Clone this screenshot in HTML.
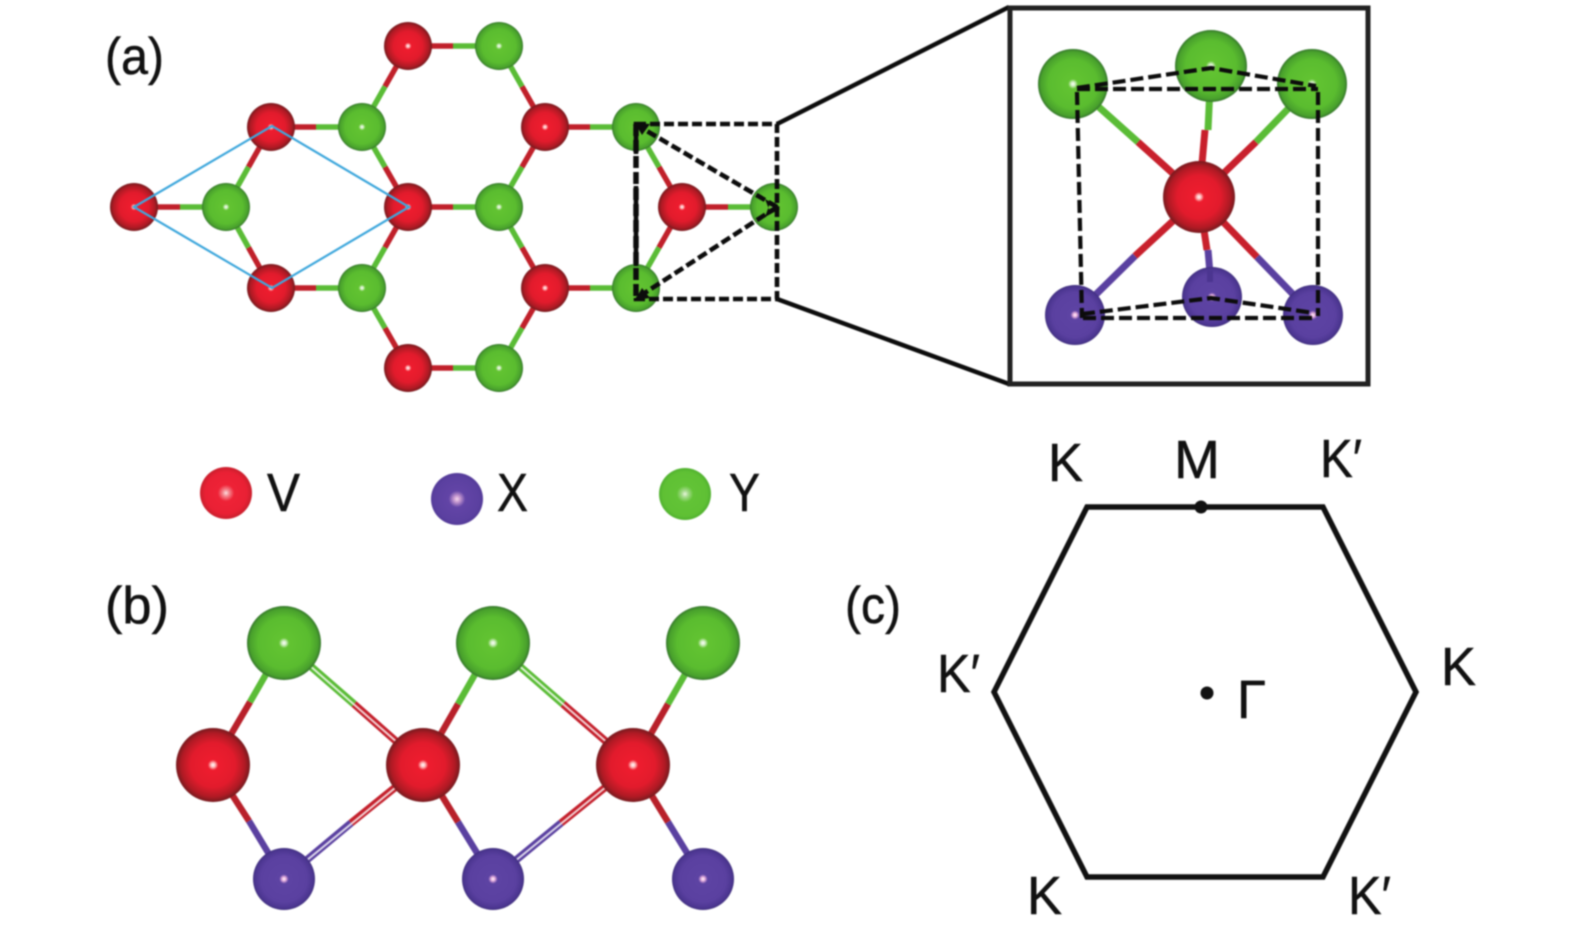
<!DOCTYPE html>
<html><head><meta charset="utf-8"><style>
html,body{margin:0;padding:0;background:#fff;width:1575px;height:925px;overflow:hidden}
svg{display:block;filter:blur(.85px)}
text{font-family:"Liberation Sans",sans-serif;fill:#111;stroke:#111;stroke-width:.5px;font-size:54px}
.r{fill:url(#gr)}.g{fill:url(#gg)}.p{fill:url(#gp)}
.lr{fill:url(#lr)}.lg{fill:url(#lg)}.lp{fill:url(#lp)}
path{fill:none}
.d{stroke:#0c0c0c;stroke-width:4.6;stroke-dasharray:10 4}
.d2{stroke:#0c0c0c;stroke-width:4.2;stroke-dasharray:13 5}
</style></head><body>
<svg width="1575" height="925" viewBox="0 0 1575 925" xmlns="http://www.w3.org/2000/svg">
<defs>
<radialGradient id="gr"><stop offset="0" stop-color="#fff"/><stop offset=".06" stop-color="#fbb"/><stop offset=".14" stop-color="#ee1c2e"/><stop offset=".6" stop-color="#e21b2c"/><stop offset=".86" stop-color="#b01a24"/><stop offset="1" stop-color="#761a1e"/></radialGradient>
<radialGradient id="gg"><stop offset="0" stop-color="#fff"/><stop offset=".06" stop-color="#cfeec0"/><stop offset=".14" stop-color="#62c331"/><stop offset=".7" stop-color="#5abc2f"/><stop offset=".92" stop-color="#48a02c"/><stop offset="1" stop-color="#35752c"/></radialGradient>
<radialGradient id="gp"><stop offset="0" stop-color="#fff"/><stop offset=".06" stop-color="#eeb4e0"/><stop offset=".15" stop-color="#5d43a3"/><stop offset=".75" stop-color="#5a40a0"/><stop offset=".94" stop-color="#4b3590"/><stop offset="1" stop-color="#3f2f7c"/></radialGradient>
<radialGradient id="lr"><stop offset="0" stop-color="#fde0e0"/><stop offset=".12" stop-color="#f58a92"/><stop offset=".32" stop-color="#ee2236"/><stop offset=".8" stop-color="#e92034"/><stop offset="1" stop-color="#c81e2c"/></radialGradient>
<radialGradient id="lg"><stop offset="0" stop-color="#e8f6dc"/><stop offset=".12" stop-color="#a8dc90"/><stop offset=".32" stop-color="#62c336"/><stop offset=".85" stop-color="#5fc034"/><stop offset="1" stop-color="#4fb02e"/></radialGradient>
<radialGradient id="lp"><stop offset="0" stop-color="#f6d8ee"/><stop offset=".12" stop-color="#c89ad0"/><stop offset=".32" stop-color="#6244a6"/><stop offset=".85" stop-color="#5b40a0"/><stop offset="1" stop-color="#533a98"/></radialGradient>
</defs>

<!-- panel a bonds -->
<path stroke="#c0202a" stroke-width="5.5" d="M271 127H316M408 46H453M545 127H590M134 207H180M408 207H453M682 207H728M271 288H316M545 288H590M408 368H453M408 46L385 86.5M545 127L522 86.5M271 127L248.5 167M408 207L385 167M545 127L522 167M682 207L659 167M271 288L248.5 247.5M408 207L385 247.5M545 288L522 247.5M682 207L659 247.5M408 368L385 328M545 288L522 328"/>
<path stroke="#5abc36" stroke-width="5.5" d="M362 127H316M499 46H453M636 127H590M226 207H180M499 207H453M774 207H728M362 288H316M636 288H590M499 368H453M362 127L385 86.5M499 46L522 86.5M226 207L248.5 167M362 127L385 167M499 207L522 167M636 127L659 167M226 207L248.5 247.5M362 288L385 247.5M499 207L522 247.5M636 288L659 247.5M362 288L385 328M499 368L522 328"/>

<!-- panel a atoms -->
<circle class="r" cx="134" cy="207" r="24"/><circle class="r" cx="271" cy="127" r="24"/><circle class="r" cx="271" cy="288" r="24"/>
<circle class="r" cx="408" cy="46" r="24"/><circle class="r" cx="408" cy="207" r="24"/><circle class="r" cx="408" cy="368" r="24"/>
<circle class="r" cx="545" cy="127" r="24"/><circle class="r" cx="545" cy="288" r="24"/><circle class="r" cx="682" cy="207" r="24"/>
<circle class="g" cx="226" cy="207" r="24"/><circle class="g" cx="362" cy="127" r="24"/><circle class="g" cx="362" cy="288" r="24"/>
<circle class="g" cx="499" cy="46" r="24"/><circle class="g" cx="499" cy="207" r="24"/><circle class="g" cx="499" cy="368" r="24"/>
<circle class="g" cx="636" cy="127" r="24"/><circle class="g" cx="636" cy="288" r="24"/><circle class="g" cx="774" cy="207" r="24"/>

<!-- unit cell rhombus -->
<path stroke="#3ea7dc" stroke-width="2.2" d="M134 207L272 126L409 207L272 288Z"/>

<!-- dashed rect + triangle -->
<path class="d" d="M636 124H777V299H636Z"/>
<path stroke="#0c0c0c" stroke-width="5.5" stroke-dasharray="12 4" d="M636 124V299"/>
<path class="d" d="M777 207L640 127M777 207L640 296"/>
<path style="fill:#0c0c0c" d="M635 123L650 124L642 135ZM635 300L650 298L642 288ZM780 207L765 199L770 212ZM780 209L765 217L770 203Z"/>

<!-- zoom lines -->
<path stroke="#0c0c0c" stroke-width="4.5" d="M777 124L1009 7M777 299L1009 384"/>

<!-- inset -->
<rect x="1010" y="8" width="358" height="376" fill="#fff" stroke="#222" stroke-width="5"/>
<path stroke="#c8202c" stroke-width="7" d="M1199 197L1138 142M1199 197L1256 142M1199 197L1205 130M1199 197L1135 256M1199 197L1257 257M1199 197L1207 250"/>
<path stroke="#5abc36" stroke-width="7" d="M1073 84L1138 142M1312 84L1256 142M1211 66L1208 130"/>
<path stroke="#5a40a0" stroke-width="7" d="M1075 315L1135 256M1313 315L1257 257M1212 297L1208 250"/>
<circle class="g" cx="1211" cy="66" r="36"/><circle class="g" cx="1073" cy="84" r="35"/><circle class="g" cx="1312" cy="84" r="35"/>
<circle class="p" cx="1212" cy="297" r="30"/><path stroke="#4b3590" stroke-width="6" d="M1210 270V282"/><circle class="p" cx="1075" cy="315" r="30"/><circle class="p" cx="1313" cy="315" r="30"/>
<circle class="r" cx="1199" cy="197" r="36"/>
<path class="d2" d="M1077 89H1318M1083 318H1312M1077 92L1082 318M1318 92V316M1077 88L1211 68L1316 86M1082 314L1211 298L1314 313"/>

<!-- legend -->
<circle class="lr" cx="226" cy="493" r="26"/><circle class="lp" cx="457" cy="499" r="26"/><circle class="lg" cx="685" cy="494" r="26"/>
<text x="267" y="511" textLength="33" lengthAdjust="spacingAndGlyphs">V</text>
<text x="497" y="511" textLength="31" lengthAdjust="spacingAndGlyphs">X</text>
<text x="729" y="511" textLength="31" lengthAdjust="spacingAndGlyphs">Y</text>

<!-- panel labels -->
<text x="105" y="74" textLength="59" lengthAdjust="spacingAndGlyphs" style="font-size:52px">(a)</text>
<text x="105" y="623" textLength="64" lengthAdjust="spacingAndGlyphs" style="font-size:52px">(b)</text>
<text x="845" y="623" textLength="56" lengthAdjust="spacingAndGlyphs" style="font-size:52px">(c)</text>

<!-- panel b bonds -->
<path stroke="#b8202a" stroke-width="6.5" d="M213 765L250 702M423 765L458 704M633 765L668 704M213 765L249 821M423 765L458 822M633 765L668 822"/>
<path stroke="#5abc36" stroke-width="6.5" d="M284 643L250 702M493 643L458 704M703 643L668 704"/>
<path stroke="#5a40a0" stroke-width="6.5" d="M284 879L249 821M493 879L458 822M703 879L668 822"/>
<path stroke="#c4202c" stroke-width="7.5" d="M423 765L354 704M633 765L563 704M423 765L351 823M633 765L561 823"/>
<path stroke="#5abc36" stroke-width="7.5" d="M284 643L354 704M493 643L563 704"/>
<path stroke="#5a40a0" stroke-width="7.5" d="M284 879L351 823M493 879L561 823"/>
<path stroke="#fff" stroke-opacity=".8" stroke-width="2" d="M284 643L423 765M493 643L633 765M284 879L423 765M493 879L633 765"/>

<!-- panel b atoms -->
<circle class="g" cx="284" cy="643" r="37"/><circle class="g" cx="493" cy="643" r="37"/><circle class="g" cx="703" cy="643" r="37"/>
<circle class="r" cx="213" cy="765" r="37"/><circle class="r" cx="423" cy="765" r="37"/><circle class="r" cx="633" cy="765" r="37"/>
<circle class="p" cx="284" cy="879" r="31"/><circle class="p" cx="493" cy="879" r="31"/><circle class="p" cx="703" cy="879" r="31"/>

<!-- panel c -->
<path stroke="#111" stroke-width="5.5" stroke-linejoin="miter" d="M1087 507H1323L1416 692L1323 877H1087L994 692Z"/>
<circle cx="1201" cy="507" r="6.5" fill="#111"/>
<circle cx="1207" cy="693" r="6.5" fill="#111"/>
<text x="1048" y="481" textLength="35" lengthAdjust="spacingAndGlyphs">K</text>
<text x="1174" y="478" textLength="46" lengthAdjust="spacingAndGlyphs">M</text>
<text x="1320" y="477" textLength="42" lengthAdjust="spacingAndGlyphs">K′</text>
<text x="937" y="692" textLength="43" lengthAdjust="spacingAndGlyphs">K′</text>
<text x="1441" y="685" textLength="35" lengthAdjust="spacingAndGlyphs">K</text>
<text x="1237" y="718" textLength="29" lengthAdjust="spacingAndGlyphs">Γ</text>
<text x="1027" y="914" textLength="35" lengthAdjust="spacingAndGlyphs">K</text>
<text x="1348" y="914" textLength="43" lengthAdjust="spacingAndGlyphs">K′</text>
</svg>
</body></html>
